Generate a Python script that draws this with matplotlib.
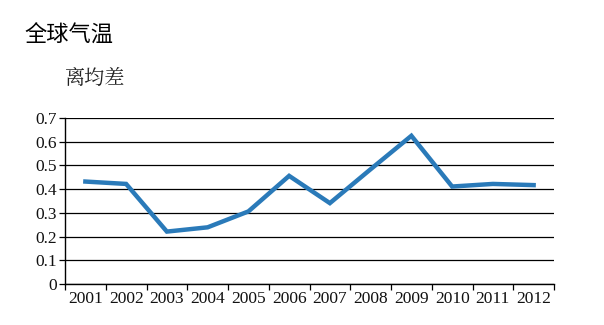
import matplotlib
matplotlib.use("Agg")
import matplotlib.pyplot as plt
from matplotlib.ticker import FixedLocator, FuncFormatter, MultipleLocator

years = ["2001", "2002", "2003", "2004", "2005", "2006", "2007", "2008", "2009", "2010", "2011", "2012"]
values = [0.432, 0.422, 0.221, 0.239, 0.306, 0.456, 0.341, 0.484, 0.625, 0.411, 0.422, 0.417]
title = "全球气温"
ylabel = "离均差"

W, H = 604, 325
fig = plt.figure(figsize=(W / 100, H / 100), dpi=100)
ax = fig.add_axes([65 / W, (H - 284) / H, (554 - 65) / W, (284 - 118) / H])

x = list(range(len(years)))
ax.plot(x, values, color="#2a7ab9", linewidth=3.2, solid_joinstyle="miter", zorder=3)

ax.set_xlim(-0.5, len(years) - 0.5)
ax.set_ylim(0, 0.7)
ax.yaxis.set_major_locator(MultipleLocator(0.1))
ax.yaxis.set_major_formatter(FuncFormatter(lambda v, p: "0" if abs(v) < 1e-9 else f"{v:.1f}"))
ax.grid(axis="y", color="black", linewidth=0.9, zorder=1)

ax.xaxis.set_major_locator(FixedLocator([i - 0.5 for i in range(len(years) + 1)]))
ax.xaxis.set_major_formatter(FuncFormatter(lambda v, p: ""))
ax.xaxis.set_minor_locator(FixedLocator(x))
ax.set_xticklabels(years, minor=True)
ax.tick_params(axis="x", which="major", length=4, width=0.9, direction="out")
ax.tick_params(axis="x", which="minor", length=0, pad=5)
ax.tick_params(axis="y", length=4, width=0.9, direction="out", pad=2)

serif = ["Liberation Serif", "DejaVu Serif"]
for lbl in ax.get_xticklabels(minor=True) + ax.get_yticklabels():
    lbl.set_fontfamily(serif)
    lbl.set_fontsize(12.5)
    lbl.set_color("#111111")

for s in ["top", "right"]:
    ax.spines[s].set_visible(False)
for s in ["left", "bottom"]:
    ax.spines[s].set_linewidth(1.0)
    ax.spines[s].set_color("black")

fig.text(24 / W, 1 - 35 / H, title, fontsize=16, family=["Noto Sans CJK SC", "DejaVu Sans"], va="center", ha="left")
fig.text(64 / W, 1 - 78 / H, ylabel, fontsize=14.5, family=["Noto Serif CJK SC", "Noto Sans CJK SC", "DejaVu Sans"], va="center", ha="left", color="#222222")

fig.savefig("out.png", dpi=100)
